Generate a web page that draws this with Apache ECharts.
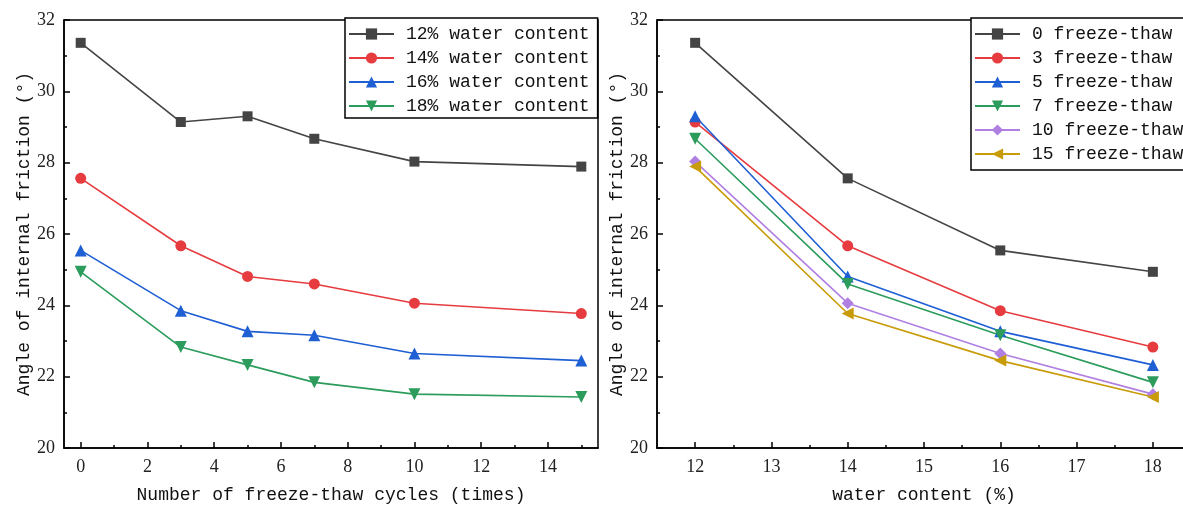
<!DOCTYPE html>
<html>
<head>
<meta charset="utf-8">
<script src="https://cdn.jsdelivr.net/npm/echarts@6/dist/echarts.min.js"></script>
<style>
  html, body { margin: 0; background: #fff; }
  #chart { width: 1183px; height: 507px; }
</style>
</head>
<body>
<div id="chart"></div>
<script>
// freeze-thaw cycles (left x axis) and water contents (right x axis)
const cycles = [0, 3, 5, 7, 10, 15];
const waterContents = [12, 14, 16, 18];

// angle of internal friction (deg), one array per water content, by cycle
const water12 = [31.36, 29.14, 29.30, 28.67, 28.03, 27.89];
const water14 = [27.56, 25.67, 24.81, 24.60, 24.06, 23.77];
const water16 = [25.54, 23.85, 23.27, 23.16, 22.65, 22.45];
const water18 = [24.94, 22.83, 22.33, 21.84, 21.51, 21.43];

const waterNames = ["12% water content", "14% water content", "16% water content", "18% water content"];
const cycleNames = ["0 freeze-thaw", "3 freeze-thaw", "5 freeze-thaw", "7 freeze-thaw", "10 freeze-thaw", "15 freeze-thaw"];

const cycleTicks = [0, 2, 4, 6, 8, 10, 12, 14];
const cycleMinorTicks = [1, 3, 5, 7, 9, 11, 13, 15];
const waterTicks = [12, 13, 14, 15, 16, 17, 18];
const waterMinorTicks = [12.5, 13.5, 14.5, 15.5, 16.5, 17.5];

const byWater = [water12, water14, water16, water18];

// styles
const colors = ["#444444", "#e63b3f", "#1f5fd4", "#2c9c5c", "#b07fe2", "#c89b08"];
const symbols = ["rect", "circle", "triangle", "triangle", "diamond", "triangle"];
const symbolSizes = [10, 11, 12, 12, 12, 12];
const symbolRotates = [0, 0, 0, 180, 0, 90];

const MONO = "Liberation Mono";
const SERIF = "Liberation Serif";
const black = "#000";

const chart = echarts.init(document.getElementById("chart"));

function mainX(gridIndex, min, max, ticks, name) {
  return {
    gridIndex, type: "value", min, max,
    name, nameLocation: "middle", nameGap: 38,
    nameTextStyle: { fontFamily: MONO, fontSize: 18, color: "#111" },
    axisLine: { show: true, onZero: false, lineStyle: { color: black, width: 1.5 } },
    axisTick: { show: true, inside: true, length: 6, customValues: ticks, lineStyle: { color: black, width: 1.5 } },
    axisLabel: { customValues: ticks, margin: 10, fontFamily: SERIF, fontSize: 18, color: "#222" },
    splitLine: { show: false },
  };
}

function minorX(gridIndex, min, max, ticks) {
  return {
    gridIndex, type: "value", min, max, position: "bottom",
    axisLine: { show: false, onZero: false },
    axisTick: { show: true, inside: true, length: 3, customValues: ticks, lineStyle: { color: black, width: 1.5 } },
    axisLabel: { show: false },
    splitLine: { show: false },
  };
}

function yAxis(gridIndex) {
  return {
    gridIndex, type: "value", min: 20, max: 32, interval: 2,
    name: "Angle of internal friction (°)", nameLocation: "middle", nameGap: 29,
    nameTextStyle: { fontFamily: MONO, fontSize: 18, color: "#111" },
    axisLine: { show: true, onZero: false, lineStyle: { color: black, width: 1.5 } },
    axisTick: { show: true, inside: true, length: 6, lineStyle: { color: black, width: 1.5 } },
    minorTick: { show: true, splitNumber: 2, length: 3, lineStyle: { color: black, width: 1.5 } },
    axisLabel: { margin: 9, fontFamily: SERIF, fontSize: 18, color: "#222" },
    splitLine: { show: false },
  };
}

function legend(left, names, pad, border) {
  return {
    orient: "vertical", left, top: 18, data: names,
    itemWidth: 45, itemHeight: 14, itemGap: 4,
    padding: pad,
    borderColor: black, borderWidth: border ? 1.5 : 0, backgroundColor: "#fff",
    textStyle: { fontFamily: MONO, fontSize: 18, color: "#111", lineHeight: 20, padding: [0, 0, 0, 7] },
  };
}

function lineSeries(name, k, xAxisIndex, yAxisIndex, data) {
  return {
    type: "line", name, xAxisIndex, yAxisIndex, data,
    symbol: symbols[k], symbolSize: symbolSizes[k], symbolRotate: symbolRotates[k],
    lineStyle: { color: colors[k], width: 1.6 },
    itemStyle: { color: colors[k] },
  };
}

const series = [];
byWater.forEach((row, i) => {
  series.push(lineSeries(waterNames[i], i, 0, 0, cycles.map((c, j) => [c, row[j]])));
});
cycles.forEach((c, j) => {
  series.push(lineSeries(cycleNames[j], j, 2, 1, waterContents.map((w, i) => [w, byWater[i][j]])));
});

chart.setOption({
  animation: false,
  backgroundColor: "#fff",
  grid: [
    { left: 64, top: 20, width: 534, height: 428, show: true, borderColor: black, borderWidth: 1.5, outerBoundsMode: "none" },
    { left: 657, top: 20, width: 534, height: 428, show: true, borderColor: black, borderWidth: 1.5, outerBoundsMode: "none" },
  ],
  xAxis: [
    mainX(0, -0.5, 15.5, cycleTicks, "Number of freeze-thaw cycles (times)"),
    minorX(0, -0.5, 15.5, cycleMinorTicks),
    mainX(1, 11.5, 18.5, waterTicks, "water content (%)"),
    minorX(1, 11.5, 18.5, waterMinorTicks),
  ],
  yAxis: [yAxis(0), yAxis(1)],
  legend: [
    legend(345, waterNames, [6, 8, 2, 3], true),
    legend(971, cycleNames, [6, 0, 4, 3], false),
  ],
  // right legend frame runs past the page edge, as in the source figure
  graphic: [{
    type: "rect", z: 10, silent: true,
    shape: { x: 971, y: 18, width: 260, height: 152 },
    style: { fill: "none", stroke: black, lineWidth: 1.5 },
  }],
  series,
});
</script>
</body>
</html>
